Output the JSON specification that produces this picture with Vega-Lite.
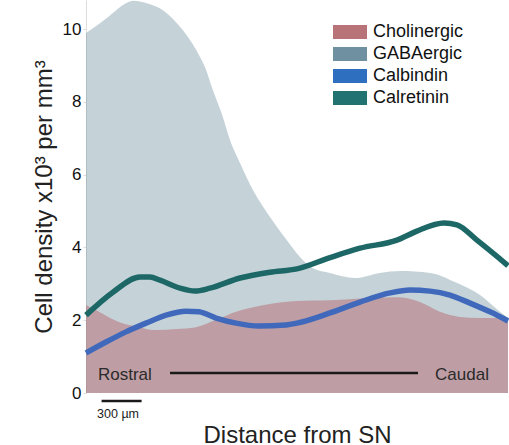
{
  "$schema": "https://vega.github.io/schema/vega-lite/v6.json",
  "width": 422,
  "height": 393,
  "autosize": {"type": "none"},
  "padding": {"left": 86, "top": 0, "right": 1, "bottom": 52},
  "config": {
    "font": "Liberation Sans",
    "view": {"stroke": null},
    "legend": {"symbolOpacity": 1}
  },
  "datasets": {
    "series": [
      {"type": "GABAergic", "x": 0, "y": 9.89},
      {"type": "GABAergic", "x": 105, "y": 10.16},
      {"type": "GABAergic", "x": 202, "y": 10.44},
      {"type": "GABAergic", "x": 277, "y": 10.66},
      {"type": "GABAergic", "x": 352, "y": 10.78},
      {"type": "GABAergic", "x": 457, "y": 10.71},
      {"type": "GABAergic", "x": 577, "y": 10.52},
      {"type": "GABAergic", "x": 682, "y": 10.16},
      {"type": "GABAergic", "x": 780, "y": 9.7},
      {"type": "GABAergic", "x": 840, "y": 9.34},
      {"type": "GABAergic", "x": 892, "y": 8.96},
      {"type": "GABAergic", "x": 952, "y": 8.32},
      {"type": "GABAergic", "x": 1027, "y": 7.58},
      {"type": "GABAergic", "x": 1080, "y": 6.95},
      {"type": "GABAergic", "x": 1155, "y": 6.32},
      {"type": "GABAergic", "x": 1252, "y": 5.58},
      {"type": "GABAergic", "x": 1380, "y": 4.84},
      {"type": "GABAergic", "x": 1507, "y": 4.2},
      {"type": "GABAergic", "x": 1605, "y": 3.74},
      {"type": "GABAergic", "x": 1702, "y": 3.43},
      {"type": "GABAergic", "x": 1830, "y": 3.3},
      {"type": "GABAergic", "x": 2017, "y": 3.16},
      {"type": "GABAergic", "x": 2205, "y": 3.3},
      {"type": "GABAergic", "x": 2355, "y": 3.35},
      {"type": "GABAergic", "x": 2580, "y": 3.3},
      {"type": "GABAergic", "x": 2767, "y": 3.05},
      {"type": "GABAergic", "x": 2955, "y": 2.69},
      {"type": "GABAergic", "x": 3105, "y": 2.23},
      {"type": "GABAergic", "x": 3165, "y": 2.06},
      {"type": "Cholinergic", "x": 0, "y": 2.42},
      {"type": "Cholinergic", "x": 75, "y": 2.28},
      {"type": "Cholinergic", "x": 247, "y": 1.95},
      {"type": "Cholinergic", "x": 397, "y": 1.81},
      {"type": "Cholinergic", "x": 525, "y": 1.73},
      {"type": "Cholinergic", "x": 675, "y": 1.76},
      {"type": "Cholinergic", "x": 825, "y": 1.81},
      {"type": "Cholinergic", "x": 975, "y": 2.01},
      {"type": "Cholinergic", "x": 1125, "y": 2.23},
      {"type": "Cholinergic", "x": 1297, "y": 2.39},
      {"type": "Cholinergic", "x": 1575, "y": 2.53},
      {"type": "Cholinergic", "x": 1830, "y": 2.55},
      {"type": "Cholinergic", "x": 2055, "y": 2.6},
      {"type": "Cholinergic", "x": 2332, "y": 2.63},
      {"type": "Cholinergic", "x": 2505, "y": 2.5},
      {"type": "Cholinergic", "x": 2655, "y": 2.23},
      {"type": "Cholinergic", "x": 2805, "y": 2.09},
      {"type": "Cholinergic", "x": 2955, "y": 2.06},
      {"type": "Cholinergic", "x": 3165, "y": 2.06},
      {"type": "Calbindin", "x": 0, "y": 1.1},
      {"type": "Calbindin", "x": 150, "y": 1.4},
      {"type": "Calbindin", "x": 300, "y": 1.68},
      {"type": "Calbindin", "x": 450, "y": 1.92},
      {"type": "Calbindin", "x": 600, "y": 2.14},
      {"type": "Calbindin", "x": 750, "y": 2.25},
      {"type": "Calbindin", "x": 847, "y": 2.23},
      {"type": "Calbindin", "x": 975, "y": 2.06},
      {"type": "Calbindin", "x": 1125, "y": 1.92},
      {"type": "Calbindin", "x": 1297, "y": 1.84},
      {"type": "Calbindin", "x": 1500, "y": 1.87},
      {"type": "Calbindin", "x": 1582, "y": 1.92},
      {"type": "Calbindin", "x": 1830, "y": 2.2},
      {"type": "Calbindin", "x": 2055, "y": 2.5},
      {"type": "Calbindin", "x": 2280, "y": 2.75},
      {"type": "Calbindin", "x": 2430, "y": 2.83},
      {"type": "Calbindin", "x": 2580, "y": 2.8},
      {"type": "Calbindin", "x": 2730, "y": 2.69},
      {"type": "Calbindin", "x": 2880, "y": 2.47},
      {"type": "Calbindin", "x": 3030, "y": 2.23},
      {"type": "Calbindin", "x": 3165, "y": 1.98},
      {"type": "Calretinin", "x": 0, "y": 2.14},
      {"type": "Calretinin", "x": 202, "y": 2.77},
      {"type": "Calretinin", "x": 405, "y": 3.19},
      {"type": "Calretinin", "x": 480, "y": 3.19},
      {"type": "Calretinin", "x": 555, "y": 3.1},
      {"type": "Calretinin", "x": 705, "y": 2.88},
      {"type": "Calretinin", "x": 817, "y": 2.8},
      {"type": "Calretinin", "x": 930, "y": 2.88},
      {"type": "Calretinin", "x": 1155, "y": 3.16},
      {"type": "Calretinin", "x": 1380, "y": 3.32},
      {"type": "Calretinin", "x": 1582, "y": 3.41},
      {"type": "Calretinin", "x": 1830, "y": 3.72},
      {"type": "Calretinin", "x": 2055, "y": 3.98},
      {"type": "Calretinin", "x": 2332, "y": 4.2},
      {"type": "Calretinin", "x": 2482, "y": 4.45},
      {"type": "Calretinin", "x": 2685, "y": 4.67},
      {"type": "Calretinin", "x": 2782, "y": 4.62},
      {"type": "Calretinin", "x": 2932, "y": 4.2},
      {"type": "Calretinin", "x": 3165, "y": 3.5}
    ]
  },
  "encoding": {
    "x": {
      "field": "x", "type": "quantitative",
      "scale": {"domain": [0, 3165], "nice": false, "zero": false},
      "axis": {"title": "Distance from SN", "labels": false, "ticks": false, "domain": false, "grid": false, "titleFontSize": 24, "titleFontWeight": "normal", "titleColor": "#222", "titlePadding": 30}
    },
    "y": {
      "field": "y", "type": "quantitative",
      "scale": {"domain": [0, 10.8], "nice": false},
      "axis": {"title": "Cell density x10³ per mm³", "values": [0, 2, 4, 6, 8, 10], "grid": false, "domainColor": "#dddddd", "tickColor": "#dddddd", "tickSize": 3, "labelPadding": 2, "labelFontSize": 17, "labelColor": "#111", "titleFontSize": 24, "titleFontWeight": "normal", "titleColor": "#222", "titlePadding": 6}
    }
  },
  "layer": [
    {
      "data": {"name": "series"},
      "transform": [{"filter": "datum.type === 'GABAergic'"}],
      "mark": {"type": "area", "interpolate": "monotone", "opacity": 0.4},
      "encoding": {
        "y": {"field": "y", "type": "quantitative", "stack": null},
        "color": {
          "field": "type", "type": "nominal",
          "scale": {"domain": ["Cholinergic", "GABAergic", "Calbindin", "Calretinin"], "range": ["#b87379", "#6f90a1", "#2f6fc0", "#237272"]},
          "legend": {
            "title": null, "orient": "none", "legendX": 245, "legendY": 23, "padding": 0,
            "symbolType": "M-1,-1H3.86V1H-1Z", "symbolSize": 196, "symbolStrokeWidth": 0,
            "labelFontSize": 18, "labelColor": "#111", "labelOffset": 24, "rowPadding": 4,
            "encode": {"symbols": {"update": {"fill": {"scale": "color", "field": "value"}, "stroke": {"value": "transparent"}, "strokeWidth": {"value": 0}, "size": {"value": 196}, "opacity": {"value": 1}, "fillOpacity": {"value": 1}}}}
          }
        }
      }
    },
    {
      "data": {"name": "series"},
      "transform": [{"filter": "datum.type === 'Cholinergic'"}],
      "mark": {"type": "area", "interpolate": "monotone", "opacity": 0.55},
      "encoding": {
        "y": {"field": "y", "type": "quantitative", "stack": null},
        "color": {"field": "type", "type": "nominal"}
      }
    },
    {
      "data": {"name": "series"},
      "transform": [{"filter": "datum.type === 'Calbindin'"}],
      "mark": {"type": "line", "interpolate": "monotone", "strokeWidth": 5.5, "color": "#4169bb"}
    },
    {
      "data": {"name": "series"},
      "transform": [{"filter": "datum.type === 'Calretinin'"}],
      "mark": {"type": "line", "interpolate": "monotone", "strokeWidth": 5.5, "color": "#1d6866"}
    },
    {
      "data": {"values": [
        {"x": 630, "x2": 2490, "y": 0.55},
        {"x": 117, "x2": 417, "y": -0.22}
      ]},
      "mark": {"type": "rule", "color": "#1a1a1a", "strokeWidth": 2.5},
      "encoding": {
        "x": {"field": "x", "type": "quantitative"},
        "x2": {"field": "x2"},
        "y": {"field": "y", "type": "quantitative"}
      }
    },
    {
      "data": {"values": [{"label": "Rostral", "x": 90, "y": 0.49}]},
      "mark": {"type": "text", "baseline": "middle", "align": "left", "fontSize": 17, "color": "#2a2a2a"},
      "encoding": {
        "x": {"field": "x", "type": "quantitative"},
        "y": {"field": "y", "type": "quantitative"},
        "text": {"field": "label"}
      }
    },
    {
      "data": {"values": [{"label": "Caudal", "x": 3022, "y": 0.49}]},
      "mark": {"type": "text", "baseline": "middle", "align": "right", "fontSize": 17, "color": "#2a2a2a"},
      "encoding": {
        "x": {"field": "x", "type": "quantitative"},
        "y": {"field": "y", "type": "quantitative"},
        "text": {"field": "label"}
      }
    },
    {
      "data": {"values": [{"label": "300 µm", "x": 83, "y": -0.58}]},
      "mark": {"type": "text", "baseline": "middle", "align": "left", "fontSize": 12.5, "color": "#222"},
      "encoding": {
        "x": {"field": "x", "type": "quantitative"},
        "y": {"field": "y", "type": "quantitative"},
        "text": {"field": "label"}
      }
    }
  ]
}
